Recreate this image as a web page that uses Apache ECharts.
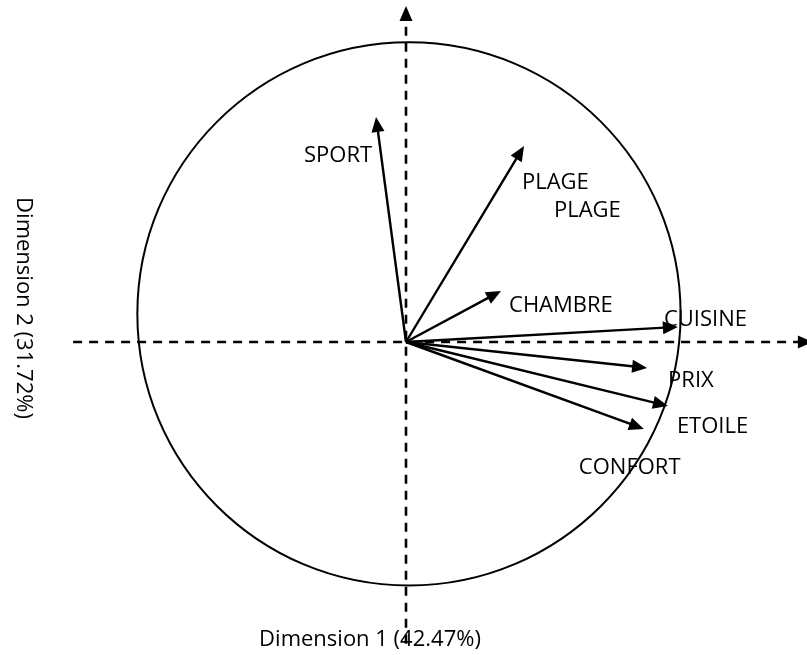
<!DOCTYPE html>
<html>
<head>
<meta charset="utf-8">
<script src="https://cdn.jsdelivr.net/npm/echarts@6/dist/echarts.min.js"></script>
<style>
  html, body { margin: 0; padding: 0; background: #fff; }
  #main { width: 807px; height: 655px; }
</style>
</head>
<body>
<div id="main"></div>
<script>
// variable coordinates on the two dimensions (correlation circle)
const variables = ['SPORT', 'PLAGE', 'CHAMBRE', 'CUISINE', 'PRIX', 'ETOILE', 'CONFORT'];
const dim1 = [-0.111, 0.437, 0.352, 1.007, 0.893, 0.970, 0.881];
const dim2 = [0.833, 0.726, 0.189, 0.056, -0.096, -0.237, -0.322];
// the labels (PLAGE is written twice in the original)
const labelTexts = ['SPORT', 'PLAGE', 'PLAGE', 'CHAMBRE', 'CUISINE', 'PRIX', 'ETOILE', 'CONFORT'];
const labelVar = [0, 1, 1, 2, 3, 4, 5, 6];
// circle: center x, center y, radius
const circle = [0.011, 0.104, 1.006];
// axis extents
const axisX = [-1.233, 1.507];
const axisY = [-1.118, 1.244];
const dim1Name = 'Dimension 1 (42.47%)';
const dim2Name = 'Dimension 2 (31.72%)';

// layout: 270 px per unit, origin at (406, 342)
const W = 807, H = 655, unit = 270, ox = 406, oy = 342;
// pixel offsets of the label text from the arrow tip
const labelOffsets = [[-72, 39], [-2, 37], [30, 65], [8, 15], [-14, -7], [21, 13], [9, 21], [-65, 39]];
const font = '"Open Sans", "Noto Sans", sans-serif';

function arrowItem (api, dashed) {
  const o = api.coord([api.value(0), api.value(1)]);
  const t = api.coord([api.value(2), api.value(3)]);
  let dx = t[0] - o[0], dy = t[1] - o[1];
  const len = Math.sqrt(dx * dx + dy * dy);
  dx /= len; dy /= len;
  const hl = 15, hw = 6.5;
  const b = [t[0] - dx * hl, t[1] - dy * hl];
  return {
    type: 'group',
    children: [
      { type: 'line', shape: { x1: o[0], y1: o[1], x2: b[0] + dx * 2, y2: b[1] + dy * 2 },
        style: { stroke: '#000', lineWidth: dashed ? 2.6 : 2.4, lineDash: dashed ? [9, 7] : null } },
      { type: 'polygon', shape: { points: [t, [b[0] - dy * hw, b[1] + dx * hw], [b[0] + dy * hw, b[1] - dx * hw]] },
        style: { fill: '#000' } }
    ]
  };
}

const arrowData = variables.map((v, i) => [0, 0, dim1[i], dim2[i]]);
const axisData = [[axisX[0], 0, axisX[1], 0], [0, axisY[0], 0, axisY[1]]];
const labelData = labelTexts.map((t, i) => ({
  value: [dim1[labelVar[i]], dim2[labelVar[i]]],
  name: t,
  label: { offset: labelOffsets[i] }
}));

const chart = echarts.init(document.getElementById('main'));
chart.setOption({
  animation: false,
  grid: { left: 0, top: 0, width: W, height: H },
  xAxis: { type: 'value', min: -ox / unit, max: (W - ox) / unit, show: false },
  yAxis: { type: 'value', min: -(H - oy) / unit, max: oy / unit, show: false },
  series: [
    {
      type: 'custom',
      clip: false,
      data: [circle],
      renderItem: (params, api) => {
        const c = api.coord([api.value(0), api.value(1)]);
        const s = api.size([api.value(2), api.value(2)]);
        return { type: 'ellipse', shape: { cx: c[0], cy: c[1], rx: s[0], ry: s[1] },
          style: { fill: null, stroke: '#000', lineWidth: 2 } };
      }
    },
    {
      type: 'custom',
      clip: false,
      data: axisData,
      renderItem: (params, api) => arrowItem(api, true)
    },
    {
      type: 'custom',
      clip: false,
      data: arrowData,
      renderItem: (params, api) => arrowItem(api, false)
    },
    {
      type: 'scatter',
      symbolSize: 0,
      data: labelData,
      itemStyle: { opacity: 1 },
      label: {
        show: true,
        position: 'right',
        distance: 0,
        formatter: '{b}',
        color: '#000',
        opacity: 1,
        fontSize: 22,
        fontFamily: font
      }
    }
  ],
  graphic: [
    { type: 'text', x: 370, y: 640,
      style: { text: dim1Name, x: 0, y: 0, align: 'center', verticalAlign: 'middle', fill: '#000', fontSize: 22, fontFamily: font } },
    { type: 'text', x: 23, y: 308, rotation: -Math.PI / 2,
      style: { text: dim2Name, x: 0, y: 0, align: 'center', verticalAlign: 'middle', fill: '#000', fontSize: 22, fontFamily: font } }
  ]
});
</script>
</body>
</html>
